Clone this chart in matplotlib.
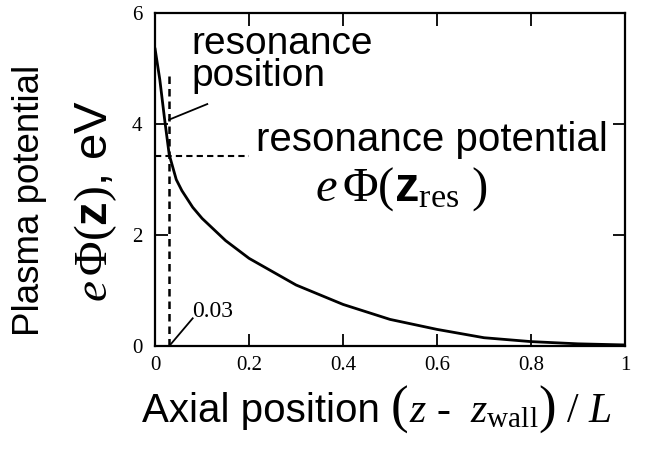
import numpy as np
import matplotlib.pyplot as plt
from matplotlib.offsetbox import TextArea, HPacker, AnnotationBbox

plt.rcParams['font.family'] = ['Liberation Sans', 'DejaVu Sans']
plt.rcParams['mathtext.fontset'] = 'custom'
plt.rcParams['mathtext.rm'] = 'Liberation Serif'
plt.rcParams['mathtext.it'] = 'Liberation Serif:italic'
plt.rcParams['mathtext.bf'] = 'Liberation Sans:bold'
plt.rcParams['mathtext.sf'] = 'Liberation Sans'

# Potential profile
z = [0.0, 0.01, 0.02, 0.03, 0.045, 0.057, 0.08, 0.1, 0.15, 0.2,
     0.3, 0.4, 0.5, 0.6, 0.7, 0.8, 0.9, 1.0]
phi = [5.35, 4.8, 4.1, 3.45, 3.0, 2.8, 2.5, 2.3, 1.9, 1.58,
       1.1, 0.75, 0.48, 0.3, 0.15, 0.08, 0.04, 0.02]

z_res = 0.03
phi_res = 3.42
x_ticks = [0, 0.2, 0.4, 0.6, 0.8, 1]
x_labels = ['0', '0.2', '0.4', '0.6', '0.8', '1']
y_ticks = [0, 2, 4, 6]

fig = plt.figure(figsize=(6.49, 4.5), dpi=100)
ax = fig.add_axes([0.239, 0.231, 0.724, 0.740])

ax.plot(z, phi, color='black', lw=2)
ax.plot([z_res, z_res], [0, 4.95], color='black', lw=1.8, ls=(0, (3, 2)))
ax.plot([0, 0.2], [phi_res, phi_res], color='black', lw=1.5, ls=(0, (3, 2)))

ax.set_xlim(0, 1)
ax.set_ylim(0, 6)
ax.set_xticks(x_ticks)
ax.set_xticklabels(x_labels, fontfamily='Liberation Serif', fontsize=15)
ax.set_yticks(y_ticks)
ax.set_yticklabels([str(t) for t in y_ticks], fontfamily='Liberation Serif', fontsize=15)
ax.tick_params(direction='in', length=9, width=1.3, top=True, right=True)
ax.tick_params(axis='y', pad=9)
ax.tick_params(axis='x', pad=7)
for s in ax.spines.values():
    s.set_linewidth(1.6)

# annotations
ax.text(0.078, 5.15, 'resonance\nposition', fontsize=28, va='center', ha='left',
        linespacing=0.85)
ax.plot([z_res, 0.111], [4.08, 4.36], color='black', lw=1.3)
ax.text(0.215, 3.72, 'resonance potential', fontsize=29, va='center', ha='left')
ax.text(0.34, 2.82, r'$e\,\Phi(\mathbf{z}_{\rm res}\ )$', fontsize=35, va='center', ha='left')
ax.text(0.078, 0.62, '0.03', fontfamily='Liberation Serif', fontsize=17, va='center', ha='left')
ax.plot([z_res, 0.08], [0.0, 0.5], color='black', lw=1.3)

fig.text(0.046, 0.555, 'Plasma potential', rotation=90, fontsize=26.5, va='center', ha='center')
fig.text(0.148, 0.553, r'$e\,\Phi(\mathbf{z})$, eV', rotation=90, fontsize=34,
         va='center', ha='center')

# x label built from pieces so the brackets can be taller
serif = 'Liberation Serif'
parts = [
    TextArea('Axial position ', textprops=dict(fontsize=29)),
    TextArea('(', textprops=dict(fontsize=38, fontfamily=serif)),
    TextArea(r'$z$ -  $z_{\rm wall}$', textprops=dict(fontsize=30, fontfamily=serif)),
    TextArea(')', textprops=dict(fontsize=38, fontfamily=serif)),
    TextArea(r' / $L$', textprops=dict(fontsize=30, fontfamily=serif)),
]
xlab = HPacker(children=parts, align='baseline', pad=0, sep=0)
fig.add_artist(AnnotationBbox(xlab, (0.5805, 0.09), xycoords='figure fraction',
                              frameon=False, box_alignment=(0.5, 0.5), pad=0))

fig.savefig('out.png', dpi=100)
